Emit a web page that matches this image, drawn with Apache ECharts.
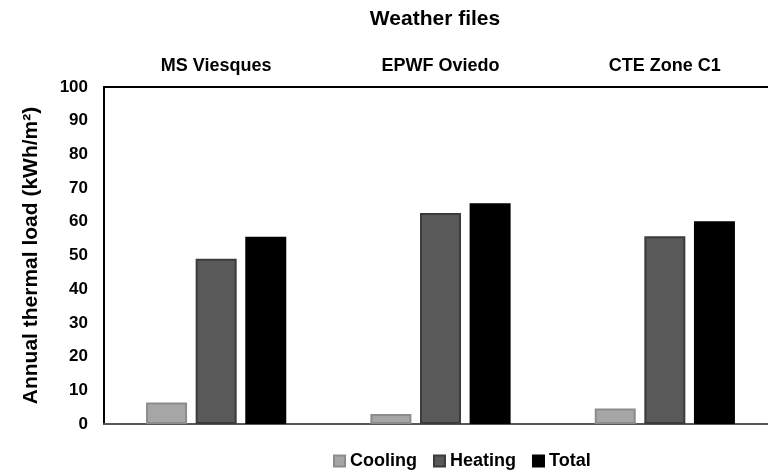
<!DOCTYPE html>
<html>
<head>
<meta charset="utf-8">
<script src="https://cdn.jsdelivr.net/npm/echarts@6/dist/echarts.min.js"></script>
<style>
html,body{margin:0;padding:0;background:#fff;}
#chart{width:768px;height:472px;}
</style>
</head>
<body>
<div id="chart"></div>
<script>
const categories = ['MS Viesques', 'EPWF Oviedo', 'CTE Zone C1'];
const seriesNames = ['Cooling', 'Heating', 'Total'];
const cooling = [6.4, 3.0, 4.6];
const heating = [49.0, 62.6, 55.7];
const total = [55.6, 65.5, 60.2];
const yTicks = [0, 10, 20, 30, 40, 50, 60, 70, 80, 90, 100];
const chartTitle = 'Weather files';
const yName = 'Annual thermal load (kWh/m²)';

const FONT = '"Liberation Sans", Arial, sans-serif';
const chart = echarts.init(document.getElementById('chart'));

const fills = ['#a6a6a6', '#595959', '#000000'];
const borders = ['#8c8c8c', '#3b3b3b', '#000000'];
const values = [cooling, heating, total];

chart.setOption({
  animation: false,
  backgroundColor: '#ffffff',
  title: {
    text: chartTitle,
    left: 435,
    top: 9,
    padding: 0,
    textAlign: 'center',
    textStyle: {fontFamily: FONT, fontWeight: 'bold', fontSize: 21, color: '#000'}
  },
  legend: {
    data: seriesNames,
    left: 333,
    top: 452,
    padding: 0,
    itemWidth: 11,
    itemHeight: 11,
    itemGap: 16,
    icon: 'rect',
    textStyle: {fontFamily: FONT, fontWeight: 'bold', fontSize: 18, color: '#000'}
  },
  grid: {left: 104, top: 87, bottom: 48, width: 673, containLabel: false, outerBoundsMode: 'none'},
  xAxis: [
    {
      type: 'category',
      data: categories,
      position: 'bottom',
      axisLine: {show: true, lineStyle: {color: '#595959', width: 2}},
      axisTick: {show: false},
      axisLabel: {show: false},
      splitLine: {show: false}
    },
    {
      type: 'category',
      data: categories,
      position: 'top',
      axisLine: {show: true, lineStyle: {color: '#000', width: 2}},
      axisTick: {show: false},
      axisLabel: {show: true, margin: 12, fontFamily: FONT, fontWeight: 'bold', fontSize: 18, color: '#000'},
      splitLine: {show: false}
    }
  ],
  yAxis: {
    type: 'value',
    min: yTicks[0],
    max: yTicks[yTicks.length - 1],
    interval: yTicks[1] - yTicks[0],
    name: yName,
    nameLocation: 'middle',
    nameRotate: 90,
    nameGap: 62,
    nameTextStyle: {fontFamily: FONT, fontWeight: 'bold', fontSize: 21, color: '#000'},
    axisLine: {show: true, lineStyle: {color: '#000', width: 2}},
    axisTick: {show: false},
    splitLine: {show: false},
    axisLabel: {margin: 16, fontFamily: FONT, fontWeight: 'bold', fontSize: 17, color: '#000'}
  },
  series: seriesNames.map((name, i) => ({
    name: name,
    type: 'bar',
    xAxisIndex: 0,
    data: values[i],
    barWidth: 41,
    barGap: '21%',
    itemStyle: {color: fills[i], borderColor: borders[i], borderWidth: 2}
  }))
});
</script>
</body>
</html>
